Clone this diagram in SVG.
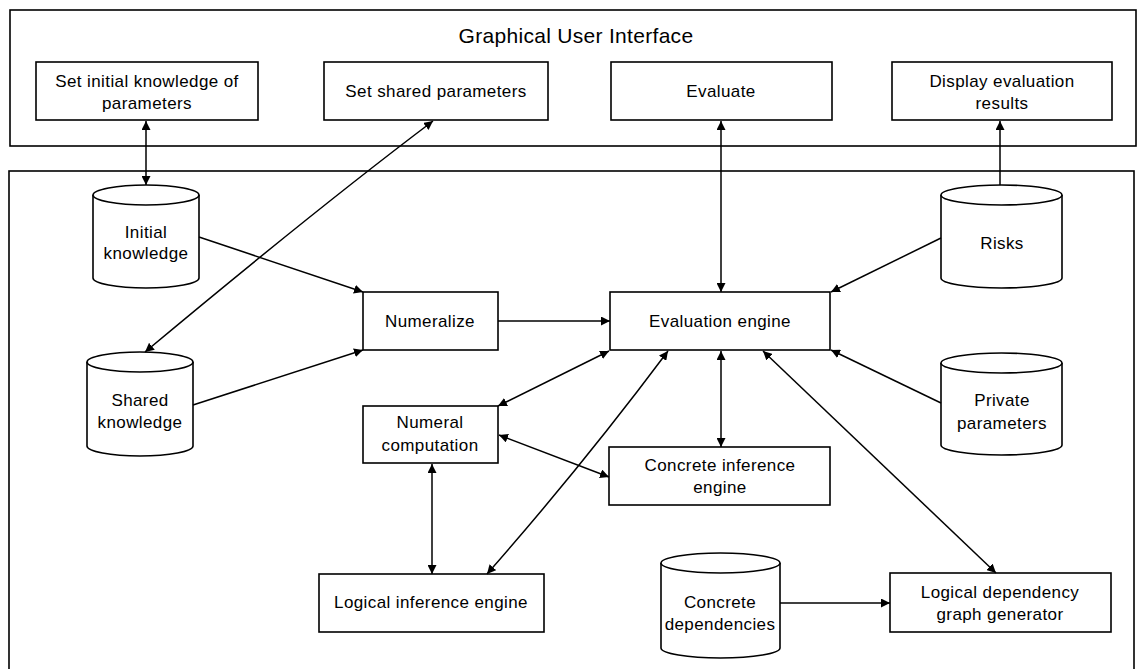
<svg xmlns="http://www.w3.org/2000/svg" width="1138" height="669" viewBox="0 0 1138 669">
<defs>
<style>
.frame{fill:none;stroke:#000;stroke-width:1.6}
.box{fill:#fff;stroke:#000;stroke-width:1.6}
.cyl{fill:#fff;stroke:#000;stroke-width:1.6}
.t{font-family:"Liberation Sans",Arial,sans-serif;font-size:17px;fill:#000;text-anchor:middle;letter-spacing:0.4px}
.title{font-family:"Liberation Sans",Arial,sans-serif;font-size:21px;fill:#000;text-anchor:middle;letter-spacing:0.3px}
.c{fill:none;stroke:#000;stroke-width:1.5}
</style>
<marker id="ah" viewBox="0 0 10 10" refX="10" refY="5" markerWidth="9" markerHeight="9" markerUnits="userSpaceOnUse" orient="auto-start-reverse">
<path d="M0,0 L10,5 L0,10 Z" fill="#000"/>
</marker>
</defs>
<rect width="1138" height="669" fill="#fff"/>

<g id="gui">
<rect class="frame" x="10" y="10" width="1126" height="136"/>
<text class="title" x="576" y="43">Graphical User Interface</text>
</g>
<g id="core">
<rect class="frame" x="9" y="171" width="1125" height="520"/>
</g>

<g id="set-initial">
<rect class="box" x="36" y="62" width="222" height="58"/>
<text class="t" x="147" y="87">Set initial knowledge of</text>
<text class="t" x="147" y="109">parameters</text>
</g>
<g id="set-shared">
<rect class="box" x="324" y="62" width="224" height="58"/>
<text class="t" x="436" y="97">Set shared parameters</text>
</g>
<g id="evaluate">
<rect class="box" x="611" y="62" width="221" height="58"/>
<text class="t" x="721" y="97">Evaluate</text>
</g>
<g id="display">
<rect class="box" x="892" y="62" width="220" height="58"/>
<text class="t" x="1002" y="87">Display evaluation</text>
<text class="t" x="1002" y="109">results</text>
</g>

<g id="initial-knowledge">
<path class="cyl" d="M93,195 L93,278 A53,10 0 0 0 199,278 L199,195"/>
<ellipse class="cyl" cx="146" cy="195" rx="53" ry="10"/>
<text class="t" x="146" y="238">Initial</text>
<text class="t" x="146" y="259">knowledge</text>
</g>
<g id="shared-knowledge">
<path class="cyl" d="M87,362 L87,446 A53,10 0 0 0 193,446 L193,362"/>
<ellipse class="cyl" cx="140" cy="362" rx="53" ry="10"/>
<text class="t" x="140" y="406">Shared</text>
<text class="t" x="140" y="428">knowledge</text>
</g>
<g id="risks">
<path class="cyl" d="M941,195 L941,278 A60.5,10 0 0 0 1062,278 L1062,195"/>
<ellipse class="cyl" cx="1001.5" cy="195" rx="60.5" ry="10"/>
<text class="t" x="1002" y="249">Risks</text>
</g>
<g id="private-parameters">
<path class="cyl" d="M941,363 L941,445 A60.5,10 0 0 0 1062,445 L1062,363"/>
<ellipse class="cyl" cx="1001.5" cy="363" rx="60.5" ry="10"/>
<text class="t" x="1002" y="406">Private</text>
<text class="t" x="1002" y="429">parameters</text>
</g>
<g id="concrete-dependencies">
<path class="cyl" d="M661,563 L661,648 A59.5,10 0 0 0 780,648 L780,563"/>
<ellipse class="cyl" cx="720.5" cy="563" rx="59.5" ry="10"/>
<text class="t" x="720" y="608">Concrete</text>
<text class="t" x="720" y="630">dependencies</text>
</g>

<g id="numeralize">
<rect class="box" x="363" y="292" width="135" height="58"/>
<text class="t" x="430" y="327">Numeralize</text>
</g>
<g id="evaluation-engine">
<rect class="box" x="610" y="292" width="220" height="58"/>
<text class="t" x="720" y="327">Evaluation engine</text>
</g>
<g id="numeral-computation">
<rect class="box" x="363" y="406" width="135" height="57"/>
<text class="t" x="430" y="428">Numeral</text>
<text class="t" x="430" y="451">computation</text>
</g>
<g id="concrete-inference">
<rect class="box" x="609" y="447" width="221" height="58"/>
<text class="t" x="720" y="471">Concrete inference</text>
<text class="t" x="720" y="493">engine</text>
</g>
<g id="logical-inference">
<rect class="box" x="319" y="574" width="225" height="58"/>
<text class="t" x="431" y="608">Logical inference engine</text>
</g>
<g id="ldgg">
<rect class="box" x="890" y="573" width="221" height="59"/>
<text class="t" x="1000" y="598">Logical dependency</text>
<text class="t" x="1000" y="620">graph generator</text>
</g>

<g id="connectors">
<line class="c" x1="146" y1="121" x2="146" y2="185" marker-start="url(#ah)" marker-end="url(#ah)"/>
<path class="c" d="M433,121 Q315,210 145,352" marker-start="url(#ah)" marker-end="url(#ah)"/>
<line class="c" x1="721" y1="121" x2="721" y2="292" marker-start="url(#ah)" marker-end="url(#ah)"/>
<line class="c" x1="1000" y1="185" x2="1000" y2="121" marker-end="url(#ah)"/>
<line class="c" x1="199" y1="237" x2="363" y2="292" marker-end="url(#ah)"/>
<line class="c" x1="193" y1="405" x2="363" y2="350" marker-end="url(#ah)"/>
<line class="c" x1="498" y1="321" x2="610" y2="321" marker-end="url(#ah)"/>
<line class="c" x1="941" y1="238" x2="831" y2="292" marker-end="url(#ah)"/>
<line class="c" x1="941" y1="403" x2="831" y2="350" marker-end="url(#ah)"/>
<line class="c" x1="609" y1="351" x2="498" y2="406" marker-start="url(#ah)" marker-end="url(#ah)"/>
<path class="c" d="M668,351 Q582,466 487,574" marker-start="url(#ah)" marker-end="url(#ah)"/>
<line class="c" x1="721" y1="351" x2="721" y2="447" marker-start="url(#ah)" marker-end="url(#ah)"/>
<line class="c" x1="763" y1="351" x2="996" y2="573" marker-start="url(#ah)" marker-end="url(#ah)"/>
<line class="c" x1="499" y1="435" x2="609" y2="477" marker-start="url(#ah)" marker-end="url(#ah)"/>
<line class="c" x1="432" y1="464" x2="432" y2="574" marker-start="url(#ah)" marker-end="url(#ah)"/>
<line class="c" x1="780" y1="603" x2="890" y2="603" marker-end="url(#ah)"/>
</g>
</svg>
